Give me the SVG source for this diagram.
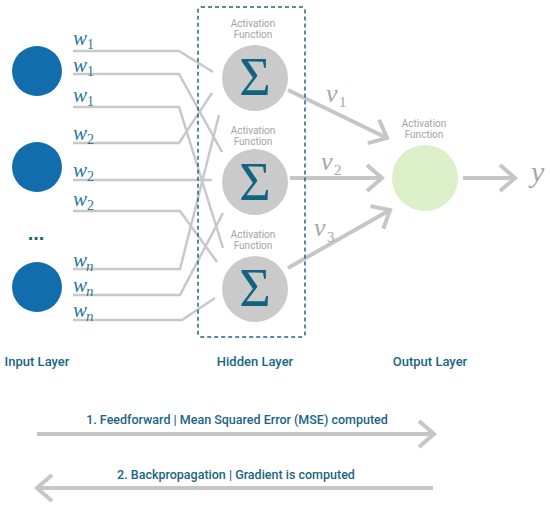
<svg xmlns="http://www.w3.org/2000/svg" width="550" height="507" viewBox="0 0 550 507">
<style>
.wline{fill:none;stroke:#c8c8c8;stroke-width:2.5}
.arr{fill:none;stroke:#c6c6c6;stroke-width:4}
.inp{fill:#126dac}
.sig{fill:#cacaca}
.sigt{font-family:"Liberation Serif",serif;font-size:54px;fill:#13627f;text-anchor:middle}
.act{font-family:Roboto,"Liberation Sans",sans-serif;font-size:10px;fill:#a3a3a3;text-anchor:middle}
.w{font-family:"Liberation Serif",serif;font-style:italic;font-size:21px;fill:#2e7898}
.ws{font-family:"Liberation Serif",serif;font-size:14px;fill:#2e7898}
.wn{font-family:"Liberation Serif",serif;font-style:italic;font-size:15px;fill:#2e7898}
.v{font-family:"Liberation Serif",serif;font-style:italic;font-size:26px;fill:#a8a8a8}
.vs{font-family:"Liberation Serif",serif;font-size:15px;fill:#a8a8a8}
.lay{font-family:Roboto,"Liberation Sans",sans-serif;font-size:13px;font-weight:500;fill:#1a6585;text-anchor:middle}
.step{font-family:Roboto,"Liberation Sans",sans-serif;font-size:12.5px;font-weight:500;fill:#1a6585;text-anchor:middle}
</style>
<defs>
<marker id="chev" markerUnits="userSpaceOnUse" orient="auto" refX="0" refY="0" markerWidth="40" markerHeight="40" viewBox="-20 -20 40 40" overflow="visible">
<path d="M-15,-13 L0,0 L-15,13" fill="none" stroke="#c6c6c6" stroke-width="4" stroke-linejoin="miter"/>
</marker>
</defs>

<g id="connectors">
<path class="wline" d="M73,51 H179 L213,72"/>
<path class="wline" d="M73,74 H179 L222,152"/>
<path class="wline" d="M73,107 H179 L223,248"/>
<path class="wline" d="M73,143 H179 L212,93"/>
<path class="wline" d="M73,180 H212"/>
<path class="wline" d="M73,211 H180 L217,262"/>
<path class="wline" d="M73,269 H180 L219,115"/>
<path class="wline" d="M73,295 H180 L223,213"/>
<path class="wline" d="M73,320 H182 L215,298"/>
<line class="arr" x1="288" y1="90" x2="387" y2="138" marker-end="url(#chev)"/>
<line class="arr" x1="290" y1="178" x2="382" y2="178" marker-end="url(#chev)"/>
<line class="arr" x1="288" y1="268" x2="390" y2="210" marker-end="url(#chev)"/>
<line class="arr" x1="463" y1="178" x2="515" y2="178" marker-end="url(#chev)"/>
<line class="arr" x1="37" y1="434" x2="434" y2="434" marker-end="url(#chev)"/>
<line class="arr" x1="433" y1="488" x2="37" y2="488" marker-end="url(#chev)"/>
</g>

<g id="weight-labels">
<text class="w" x="73" y="45">w</text><text class="ws" x="87" y="49">1</text>
<text class="w" x="73" y="72">w</text><text class="ws" x="87" y="76">1</text>
<text class="w" x="73" y="102">w</text><text class="ws" x="87" y="106">1</text>
<text class="w" x="73" y="140">w</text><text class="ws" x="87" y="144">2</text>
<text class="w" x="73" y="177">w</text><text class="ws" x="87" y="181">2</text>
<text class="w" x="73" y="206">w</text><text class="ws" x="87" y="210">2</text>
<text class="w" x="73" y="267">w</text><text class="wn" x="86" y="271">n</text>
<text class="w" x="73" y="292">w</text><text class="wn" x="86" y="296">n</text>
<text class="w" x="73" y="317">w</text><text class="wn" x="86" y="321">n</text>
</g>

<g id="input-1"><circle class="inp" cx="37" cy="71" r="25"/></g>
<g id="input-2"><circle class="inp" cx="37" cy="167" r="25"/></g>
<g id="input-dots"><text x="36" y="240" font-family="Liberation Sans,sans-serif" font-size="20" font-weight="bold" fill="#1a6585" text-anchor="middle">...</text></g>
<g id="input-n"><circle class="inp" cx="37" cy="287" r="25"/></g>

<g id="hidden-box"><rect x="198" y="7" width="107" height="330" rx="3" fill="none" stroke="#21677f" stroke-width="1.5" stroke-dasharray="4 3"/></g>

<g id="hidden-1">
<text class="act" x="253" y="27">Activation</text>
<text class="act" x="253" y="38">Function</text>
<circle class="sig" cx="255" cy="78" r="33"/>
<text class="sigt" x="255" y="95">Σ</text>
</g>
<g id="hidden-2">
<text class="act" x="253" y="134">Activation</text>
<text class="act" x="253" y="145">Function</text>
<circle class="sig" cx="255" cy="182" r="33"/>
<text class="sigt" x="255" y="200">Σ</text>
</g>
<g id="hidden-3">
<text class="act" x="253" y="238">Activation</text>
<text class="act" x="253" y="249">Function</text>
<circle class="sig" cx="255" cy="289" r="33"/>
<text class="sigt" x="255" y="306">Σ</text>
</g>

<g id="v-labels">
<text class="v" x="326" y="102">v</text><text class="vs" x="339" y="107">1</text>
<text class="v" x="321" y="170">v</text><text class="vs" x="334" y="175">2</text>
<text class="v" x="314" y="236">v</text><text class="vs" x="327" y="242">3</text>
</g>

<g id="output">
<text class="act" x="424" y="127">Activation</text>
<text class="act" x="424" y="138">Function</text>
<circle cx="425" cy="178" r="33" fill="#dbf0c8"/>
</g>
<g id="y-label"><text x="531" y="182" font-family="Liberation Serif,serif" font-style="italic" font-size="30" fill="#a8a8a8">y</text></g>

<g id="layer-labels">
<text class="lay" x="37" y="366">Input Layer</text>
<text class="lay" x="255" y="366">Hidden Layer</text>
<text class="lay" x="430" y="366">Output Layer</text>
</g>

<g id="steps">
<text class="step" x="237" y="424">1. Feedforward | Mean Squared Error (MSE) computed</text>
<text class="step" x="236" y="479">2. Backpropagation | Gradient is computed</text>
</g>
</svg>
